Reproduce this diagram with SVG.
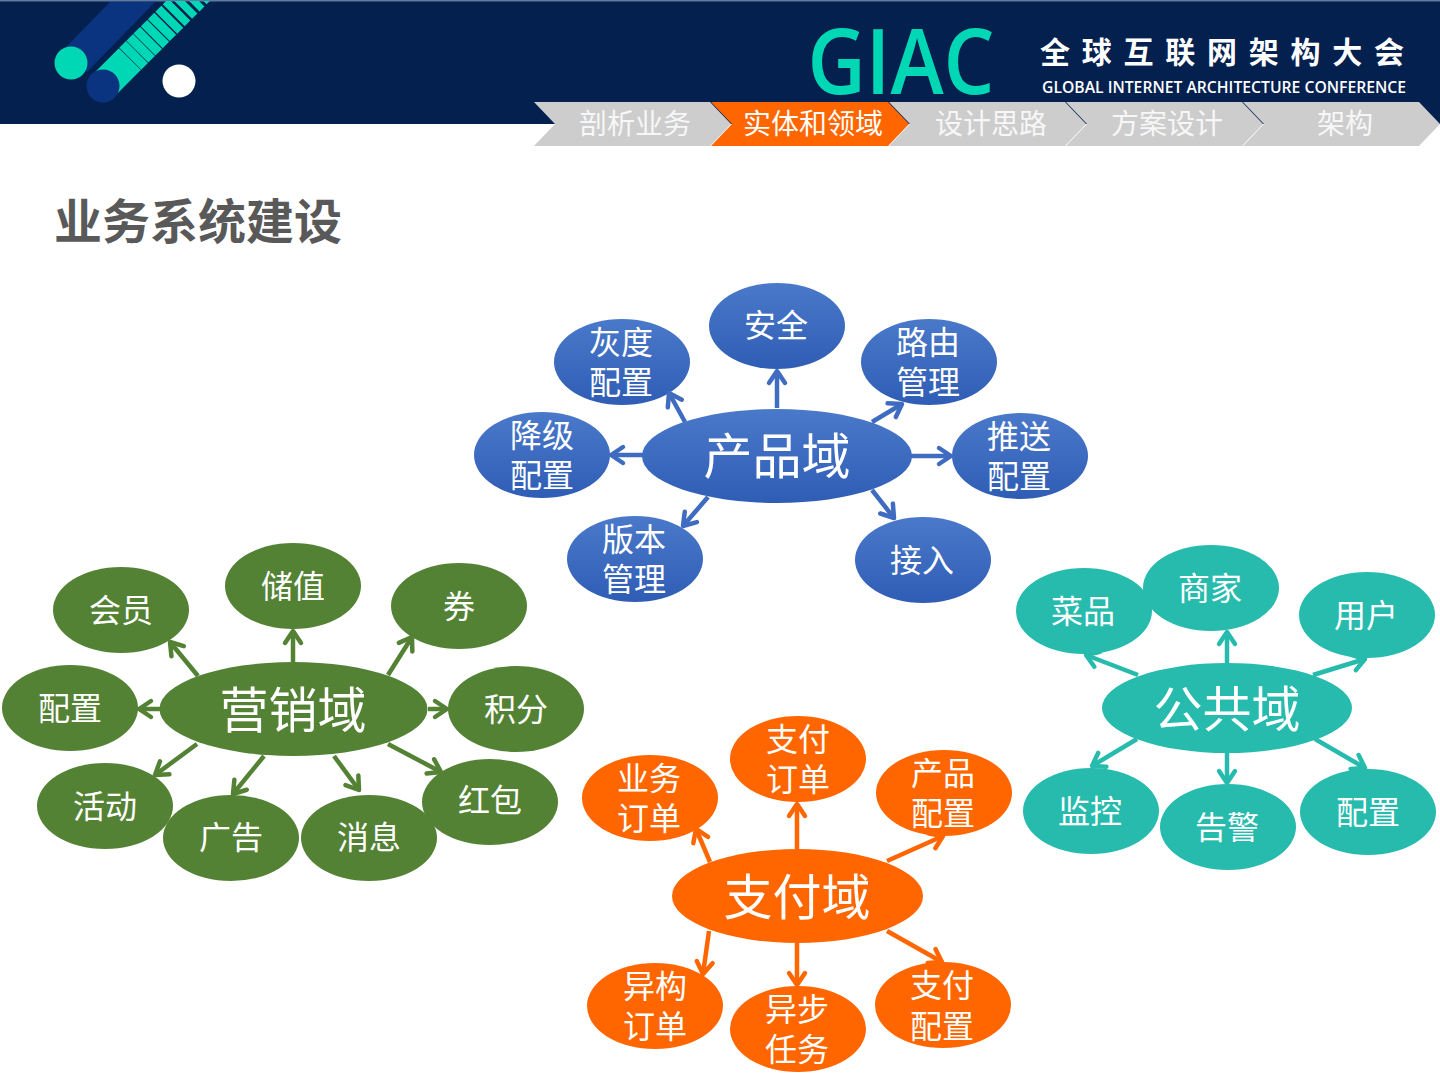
<svg xmlns="http://www.w3.org/2000/svg" width="1440" height="1080" viewBox="0 0 1440 1080">
<style>
text{font-family:"Noto Sans CJK SC","Noto Sans",sans-serif;text-anchor:middle}
.n{font-size:32px;fill:#fff}
.c{font-size:49px;fill:#fff}
.t{font-size:28px;fill:#f7f7f7}
.a{fill:none;stroke-width:4.5;marker-end:url(#m)}
.ab{stroke:#3f6cc0}.ag{stroke:#548235}.at{stroke:#26bbad}.ao{stroke:#ff6600}
.g{fill:#548235}.k{fill:#26bbad}.o{fill:#ff6600}.b{fill:url(#bl)}
.tab{fill:#cdcdcd}
</style>
<defs>
<linearGradient id="bl" x1="0" y1="0" x2="0" y2="1"><stop offset="0" stop-color="#4a79ca"/><stop offset="1" stop-color="#2f5db5"/></linearGradient>
<marker id="m" markerUnits="userSpaceOnUse" markerWidth="28" markerHeight="28" refX="16" refY="14" orient="auto"><path d="M4 6L16 14L4 22" fill="none" stroke="context-stroke" stroke-width="4.500" stroke-linecap="round" stroke-linejoin="round"/></marker>
<clipPath id="hc"><rect x="0" y="1" width="1440" height="123"/></clipPath>
</defs>
<rect width="1440" height="1080" fill="#fff"/>
<g id="header">
<rect width="1440" height="124" fill="#03204f"/>
<rect width="1440" height="1.5" fill="#5f7ba3"/>
<g clip-path="url(#hc)">
<polygon points="110,2 155,2 87,72 66,47" fill="#0a3480"/>
<line x1="103" y1="86" x2="215" y2="-26" stroke="#00d7b5" stroke-width="31" stroke-dasharray="38 .6 9.4 .6 9.4 .6 9.4 1 9 1 9 1.5 8.5 2 8 2.5 7.5 3 7 3 7 3.5 6.5 4 6 4 6 4.5 5.5 5 5"/>
</g>
<circle cx="71" cy="63" r="16.5" fill="#00d7b5"/>
<circle cx="103" cy="86" r="16.5" fill="#0a3480"/>
<circle cx="179" cy="81" r="16.5" fill="#fff"/>
<text x="901" y="94" style="font-family:'Open Sans',sans-serif;font-size:90px;font-weight:600;fill:#00d7b5" textLength="187" lengthAdjust="spacingAndGlyphs">GIAC</text>
<text x="1222" y="63" style="font-size:30px;font-weight:700;fill:#fff" textLength="364">全球互联网架构大会</text>
<text x="1224" y="93" style="font-family:'Open Sans',sans-serif;font-size:16px;font-weight:600;fill:#fff" textLength="364" lengthAdjust="spacingAndGlyphs">GLOBAL INTERNET ARCHITECTURE CONFERENCE</text>
</g>
<g id="tabs">
<polygon class="tab" points="534,102 710,102 731,124 710,146 534,146 555,124"/>
<polygon points="711,102 888,102 909,124 888,146 711,146 732,124" fill="#ff6600"/>
<polygon class="tab" points="889,102 1065,102 1086,124 1065,146 889,146 910,124"/>
<polygon class="tab" points="1066,102 1242,102 1263,124 1242,146 1066,146 1087,124"/>
<polygon class="tab" points="1243,102 1419,102 1440,124 1419,146 1243,146 1264,124"/>
<text class="t" x="635" y="134">剖析业务</text>
<text class="t" x="813" y="134" style="fill:#fff">实体和领域</text>
<text class="t" x="991" y="134">设计思路</text>
<text class="t" x="1167" y="134">方案设计</text>
<text class="t" x="1345" y="134">架构</text>
</g>
<text id="title" x="198" y="239" style="font-size:48px;font-weight:700;fill:#595959">业务系统建设</text>
<g id="product"><ellipse class="b" cx="777" cy="456" rx="135" ry="47"/><text class="c" x="777" y="474">产品域</text></g>
<g id="p1"><ellipse class="b" cx="777" cy="326" rx="68" ry="43"/><text class="n" x="776" y="337">安全</text></g>
<g id="p2"><ellipse class="b" cx="622" cy="362" rx="68" ry="43"/><text class="n" x="621" y="354">灰度</text><text class="n" x="621" y="394">配置</text></g>
<g id="p3"><ellipse class="b" cx="929" cy="362" rx="68" ry="43"/><text class="n" x="928" y="354">路由</text><text class="n" x="928" y="394">管理</text></g>
<g id="p4"><ellipse class="b" cx="1020" cy="456" rx="68" ry="43"/><text class="n" x="1019" y="448">推送</text><text class="n" x="1019" y="488">配置</text></g>
<g id="p5"><ellipse class="b" cx="923" cy="560" rx="68" ry="43"/><text class="n" x="922" y="572">接入</text></g>
<g id="p6"><ellipse class="b" cx="635" cy="559" rx="68" ry="43"/><text class="n" x="634" y="551">版本</text><text class="n" x="634" y="591">管理</text></g>
<g id="p7"><ellipse class="b" cx="542" cy="455" rx="68" ry="43"/><text class="n" x="542" y="447">降级</text><text class="n" x="542" y="487">配置</text></g>
<g id="marketing"><ellipse class="g" cx="293.500" cy="709" rx="134" ry="47"/><text class="c" x="293" y="728">营销域</text></g>
<g id="m1"><ellipse class="g" cx="293" cy="586" rx="68" ry="43"/><text class="n" x="293" y="598">储值</text></g>
<g id="m2"><ellipse class="g" cx="121" cy="610" rx="68" ry="43"/><text class="n" x="121" y="622">会员</text></g>
<g id="m3"><ellipse class="g" cx="459" cy="606" rx="68" ry="43"/><text class="n" x="459" y="618">券</text></g>
<g id="m4"><ellipse class="g" cx="70" cy="708" rx="68" ry="43"/><text class="n" x="70" y="720">配置</text></g>
<g id="m5"><ellipse class="g" cx="516" cy="709" rx="68" ry="43"/><text class="n" x="516" y="721">积分</text></g>
<g id="m6"><ellipse class="g" cx="105" cy="806" rx="68" ry="43"/><text class="n" x="105" y="818">活动</text></g>
<g id="m7"><ellipse class="g" cx="231" cy="838" rx="68" ry="43"/><text class="n" x="231" y="849">广告</text></g>
<g id="m8"><ellipse class="g" cx="369" cy="838" rx="68" ry="43"/><text class="n" x="369" y="849">消息</text></g>
<g id="m9"><ellipse class="g" cx="490" cy="802" rx="68" ry="43"/><text class="n" x="490" y="812">红包</text></g>
<g id="public"><ellipse class="k" cx="1227" cy="708" rx="125" ry="45"/><text class="c" x="1227" y="727">公共域</text></g>
<g id="c1"><ellipse class="k" cx="1084" cy="611" rx="68" ry="43"/><text class="n" x="1083" y="623">菜品</text></g>
<g id="c2"><ellipse class="k" cx="1211" cy="588" rx="68" ry="43"/><text class="n" x="1210" y="600">商家</text></g>
<g id="c3"><ellipse class="k" cx="1367" cy="615" rx="68" ry="43"/><text class="n" x="1366" y="627">用户</text></g>
<g id="c4"><ellipse class="k" cx="1091" cy="811" rx="68" ry="43"/><text class="n" x="1090" y="823">监控</text></g>
<g id="c5"><ellipse class="k" cx="1228" cy="827" rx="68" ry="43"/><text class="n" x="1227" y="839">告警</text></g>
<g id="c6"><ellipse class="k" cx="1368" cy="812" rx="68" ry="43"/><text class="n" x="1368" y="824">配置</text></g>
<g id="pay"><ellipse class="o" cx="797.500" cy="896" rx="125.500" ry="47"/><text class="c" x="797" y="915">支付域</text></g>
<g id="y1"><ellipse class="o" cx="798" cy="759" rx="68" ry="43"/><text class="n" x="798" y="751">支付</text><text class="n" x="798" y="791">订单</text></g>
<g id="y2"><ellipse class="o" cx="650" cy="798" rx="68" ry="43"/><text class="n" x="649" y="790">业务</text><text class="n" x="649" y="830">订单</text></g>
<g id="y3"><ellipse class="o" cx="944" cy="793" rx="68" ry="43"/><text class="n" x="943" y="785">产品</text><text class="n" x="943" y="825">配置</text></g>
<g id="y4"><ellipse class="o" cx="655" cy="1006" rx="68" ry="43"/><text class="n" x="655" y="998">异构</text><text class="n" x="655" y="1038">订单</text></g>
<g id="y5"><ellipse class="o" cx="798" cy="1029" rx="68" ry="43"/><text class="n" x="797" y="1021">异步</text><text class="n" x="797" y="1061">任务</text></g>
<g id="y6"><ellipse class="o" cx="943" cy="1005" rx="68" ry="43"/><text class="n" x="942" y="997">支付</text><text class="n" x="942" y="1038">配置</text></g>
<g id="connectors">
<g class="ab"><path class="a" d="M777 408V371"/><path class="a" d="M685 422L669 393"/><path class="a" d="M872 422L902 404"/><path class="a" d="M911 456H951"/><path class="a" d="M872 490L894 518"/><path class="a" d="M708 497L683 526"/><path class="a" d="M643 455H611"/></g>
<g class="ag"><path class="a" d="M293 662V631"/><path class="a" d="M198 676L170 642"/><path class="a" d="M388 675L412 637"/><path class="a" d="M160 709H139"/><path class="a" d="M428 709H447"/><path class="a" d="M197 744L155 775"/><path class="a" d="M264 756L233 794"/><path class="a" d="M334 756L359 790"/><path class="a" d="M388 744L441 772"/></g>
<g class="at"><path class="a" d="M1227 663V632"/><path class="a" d="M1138 675L1086 655"/><path class="a" d="M1313 675L1365 659"/><path class="a" d="M1137 739L1092 766"/><path class="a" d="M1227 753V783"/><path class="a" d="M1315 739L1365 768"/></g>
<g class="ao"><path class="a" d="M797 849V804"/><path class="a" d="M710 862L696 829"/><path class="a" d="M887 861L943 836"/><path class="a" d="M709 931L703 974"/><path class="a" d="M797 943V985"/><path class="a" d="M887 931L942 962"/></g>
</g>
</svg>
